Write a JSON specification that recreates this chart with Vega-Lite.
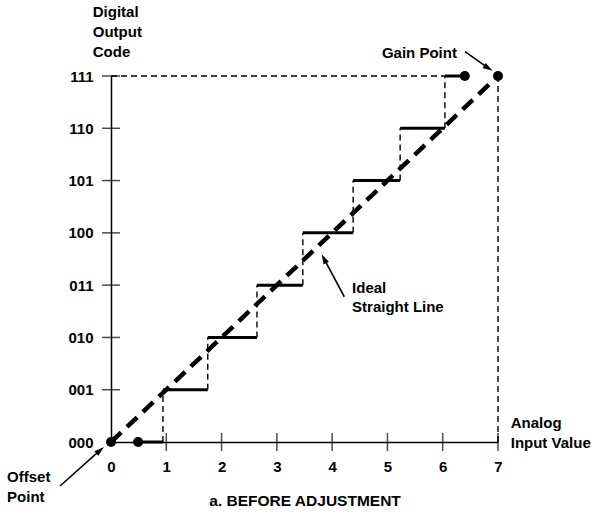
{
  "$schema": "https://vega.github.io/schema/vega-lite/v6.json",
  "width": 387,
  "height": 366,
  "autosize": {"type": "none"},
  "padding": {"left": 111, "top": 76, "right": 98, "bottom": 72},
  "background": "white",
  "config": {"view": {"stroke": null}, "font": "Liberation Sans"},
  "datasets": {
    "risers": [
      {"x": 0.94, "x2": 0.94, "y": 0, "y2": 1},
      {"x": 1.75, "x2": 1.75, "y": 1, "y2": 2},
      {"x": 2.64, "x2": 2.64, "y": 2, "y2": 3},
      {"x": 3.47, "x2": 3.47, "y": 3, "y2": 4},
      {"x": 4.38, "x2": 4.38, "y": 4, "y2": 5},
      {"x": 5.23, "x2": 5.23, "y": 5, "y2": 6},
      {"x": 6.04, "x2": 6.04, "y": 6, "y2": 7},
      {"x": 0, "x2": 6.04, "y": 7, "y2": 7},
      {"x": 7, "x2": 7, "y": 0, "y2": 7}
    ],
    "steps": [
      {"x": 0.49, "x2": 0.94, "y": 0},
      {"x": 0.94, "x2": 1.75, "y": 1},
      {"x": 1.75, "x2": 2.64, "y": 2},
      {"x": 2.64, "x2": 3.47, "y": 3},
      {"x": 3.47, "x2": 4.38, "y": 4},
      {"x": 4.38, "x2": 5.23, "y": 5},
      {"x": 5.23, "x2": 6.04, "y": 6},
      {"x": 6.04, "x2": 6.4, "y": 7}
    ],
    "ideal": [{"x": 0, "y": 0, "x2": 7, "y2": 7}],
    "dots": [
      {"x": 0, "y": 0},
      {"x": 0.49, "y": 0},
      {"x": 6.4, "y": 7},
      {"x": 7, "y": 7}
    ],
    "ticks": [{"v": 1}, {"v": 2}, {"v": 3}, {"v": 4}, {"v": 5}, {"v": 6}, {"v": 7}],
    "notes": [
      {"text": "Digital", "x": -0.33, "y": 8.22},
      {"text": "Output", "x": -0.33, "y": 7.84},
      {"text": "Code", "x": -0.33, "y": 7.46},
      {"text": "Gain Point", "x": 4.9, "y": 7.44},
      {"text": "Ideal", "x": 4.36, "y": 2.95},
      {"text": "Straight Line", "x": 4.36, "y": 2.58},
      {"text": "Analog", "x": 7.23, "y": 0.36},
      {"text": "Input Value", "x": 7.23, "y": -0.02},
      {"text": "Offset", "x": -1.88, "y": -0.67},
      {"text": "Point", "x": -1.88, "y": -1.05}
    ],
    "caption": [{"text": "a. BEFORE ADJUSTMENT", "x": 3.51, "y": -1.13}],
    "arrows": [
      {"x": -0.922, "y": -0.841, "x2": -0.196, "y2": -0.157},
      {"x": 6.403, "y": 7.465, "x2": 6.826, "y2": 7.15},
      {"x": 4.22, "y": 2.778, "x2": 3.852, "y2": 3.505}
    ]
  },
  "layer": [
    {
      "data": {"name": "risers"},
      "mark": {"type": "rule", "strokeWidth": 1.4, "strokeDash": [6, 4], "color": "black"},
      "encoding": {
        "x": {
          "field": "x", "type": "quantitative",
          "scale": {"domain": [0, 7], "nice": false, "zero": false},
          "axis": {
            "values": [0, 1, 2, 3, 4, 5, 6, 7], "format": "d", "ticks": false, "tickSize": 0, "grid": false,
            "domain": true, "domainColor": "black", "domainWidth": 1.5, "labelFont": "Liberation Sans",
            "labelFontSize": 15, "labelFontWeight": "bold", "labelColor": "black", "labelPadding": 17, "title": null,
            "labelFlush": false
          }
        },
        "x2": {"field": "x2"},
        "y": {
          "field": "y", "type": "quantitative",
          "scale": {"domain": [0, 7], "nice": false, "zero": false},
          "axis": {
            "values": [0, 1, 2, 3, 4, 5, 6, 7], "ticks": false, "tickSize": 0, "grid": false,
            "domain": true, "domainColor": "black", "domainWidth": 1.5, "labelFont": "Liberation Sans",
            "labelFontSize": 15, "labelFontWeight": "bold", "labelColor": "black", "labelPadding": 18, "title": null,
            "labelFlush": false, "labelBaseline": "middle",
            "labelExpr": "['000','001','010','011','100','101','110','111'][datum.value]"
          }
        },
        "y2": {"field": "y2"}
      }
    },
    {
      "data": {"name": "ticks"},
      "mark": {"type": "tick", "orient": "vertical", "size": 18, "thickness": 1.5, "color": "black"},
      "encoding": {
        "x": {"field": "v", "type": "quantitative"},
        "y": {"datum": 0, "type": "quantitative"}
      }
    },
    {
      "data": {"name": "ticks"},
      "mark": {"type": "tick", "orient": "horizontal", "size": 18, "thickness": 1.5, "color": "black"},
      "encoding": {
        "y": {"field": "v", "type": "quantitative"},
        "x": {"datum": 0, "type": "quantitative"}
      }
    },
    {
      "data": {"name": "ideal"},
      "mark": {"type": "rule", "strokeWidth": 4.5, "strokeDash": [14, 8], "strokeCap": "butt", "color": "black"},
      "encoding": {
        "x": {"field": "x", "type": "quantitative"},
        "x2": {"field": "x2"},
        "y": {"field": "y", "type": "quantitative"},
        "y2": {"field": "y2"}
      }
    },
    {
      "data": {"name": "steps"},
      "mark": {"type": "rule", "strokeWidth": 3, "strokeCap": "butt", "color": "black"},
      "encoding": {
        "x": {"field": "x", "type": "quantitative"},
        "x2": {"field": "x2"},
        "y": {"field": "y", "type": "quantitative"}
      }
    },
    {
      "data": {"name": "dots"},
      "mark": {"type": "point", "filled": true, "size": 100, "color": "black", "opacity": 1},
      "encoding": {
        "x": {"field": "x", "type": "quantitative"},
        "y": {"field": "y", "type": "quantitative"}
      }
    },
    {
      "data": {"name": "arrows"},
      "mark": {"type": "rule", "strokeWidth": 1.6, "color": "black"},
      "encoding": {
        "x": {"field": "x", "type": "quantitative"},
        "x2": {"field": "x2"},
        "y": {"field": "y", "type": "quantitative"},
        "y2": {"field": "y2"}
      }
    },
    {
      "data": {"values": [{"x": -0.196, "y": -0.157}]},
      "mark": {"type": "point", "shape": "M0,-1L0.6,1L-0.6,1Z", "filled": true, "size": 100, "angle": 49.6, "color": "black", "opacity": 1},
      "encoding": {
        "x": {"field": "x", "type": "quantitative"},
        "y": {"field": "y", "type": "quantitative"}
      }
    },
    {
      "data": {"values": [{"x": 6.826, "y": 7.15}]},
      "mark": {"type": "point", "shape": "M0,-1L0.6,1L-0.6,1Z", "filled": true, "size": 100, "angle": 121.3, "color": "black", "opacity": 1},
      "encoding": {
        "x": {"field": "x", "type": "quantitative"},
        "y": {"field": "y", "type": "quantitative"}
      }
    },
    {
      "data": {"values": [{"x": 3.852, "y": 3.505}]},
      "mark": {"type": "point", "shape": "M0,-1L0.6,1L-0.6,1Z", "filled": true, "size": 100, "angle": 332.4, "color": "black", "opacity": 1},
      "encoding": {
        "x": {"field": "x", "type": "quantitative"},
        "y": {"field": "y", "type": "quantitative"}
      }
    },
    {
      "data": {"name": "notes"},
      "mark": {"type": "text", "align": "left", "baseline": "middle", "font": "Liberation Sans", "fontSize": 15, "fontWeight": "bold", "color": "black"},
      "encoding": {
        "x": {"field": "x", "type": "quantitative"},
        "y": {"field": "y", "type": "quantitative"},
        "text": {"field": "text"}
      }
    },
    {
      "data": {"name": "caption"},
      "mark": {"type": "text", "align": "center", "baseline": "middle", "font": "Liberation Sans", "fontSize": 15.5, "fontWeight": "bold", "color": "black"},
      "encoding": {
        "x": {"field": "x", "type": "quantitative"},
        "y": {"field": "y", "type": "quantitative"},
        "text": {"field": "text"}
      }
    }
  ]
}
